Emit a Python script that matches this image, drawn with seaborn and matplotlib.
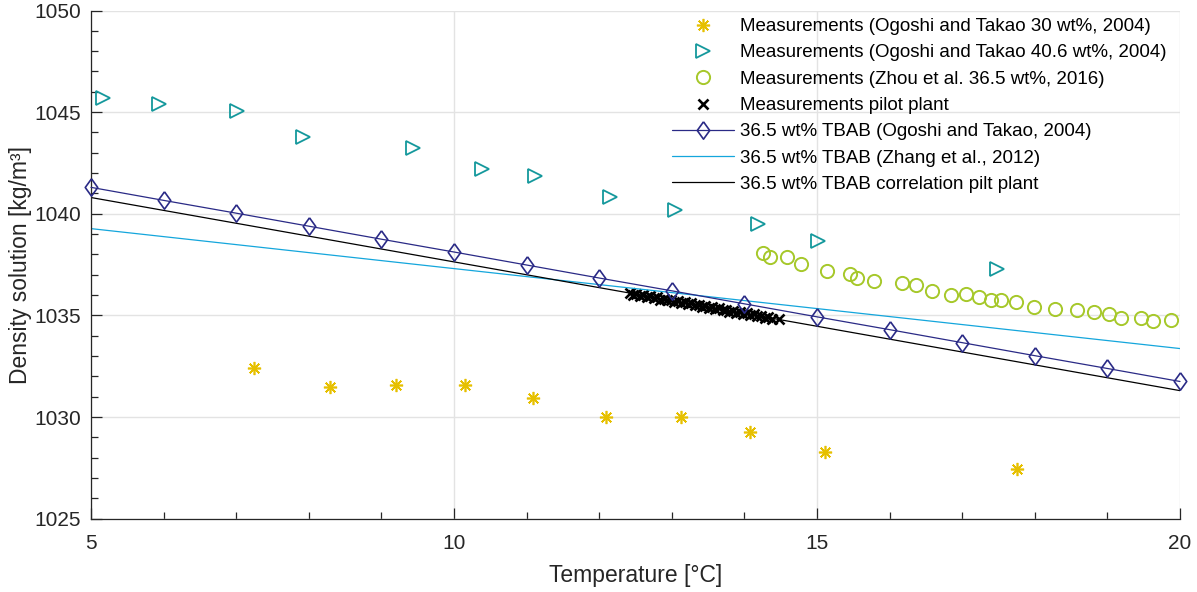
import matplotlib
matplotlib.use("Agg")
import matplotlib.pyplot as plt
import seaborn as sns

# Ogoshi and Takao (2004), 30 wt% TBAB
t_ogoshi30 = [7.25, 8.29, 9.20, 10.15, 11.09, 12.10, 13.13, 14.08, 15.11, 17.76]
rho_ogoshi30 = [1032.43, 1031.46, 1031.57, 1031.57, 1030.95, 1029.99, 1029.99, 1029.25, 1028.30, 1027.45]

# Ogoshi and Takao (2004), 40.6 wt% TBAB
t_ogoshi406 = [5.17, 5.94, 7.01, 7.92, 9.44, 10.38, 11.12, 12.15, 13.04, 14.19, 15.01, 17.48]
rho_ogoshi406 = [1045.68, 1045.39, 1045.06, 1043.77, 1043.25, 1042.21, 1041.88, 1040.85,
                 1040.20, 1039.48, 1038.64, 1037.28]

# Zhou et al. (2016), 36.5 wt% TBAB
t_zhou = [14.26, 14.35, 14.59, 14.78, 15.14, 15.45, 15.55, 15.79, 16.17, 16.36, 16.58, 16.85,
          17.05, 17.23, 17.40, 17.54, 17.74, 17.99, 18.28, 18.58, 18.82, 19.02, 19.19, 19.46,
          19.63, 19.87]
rho_zhou = [1038.05, 1037.86, 1037.86, 1037.52, 1037.20, 1037.06, 1036.83, 1036.70, 1036.59,
            1036.49, 1036.19, 1036.00, 1036.03, 1035.90, 1035.77, 1035.75, 1035.64, 1035.41,
            1035.34, 1035.26, 1035.19, 1035.06, 1034.88, 1034.85, 1034.75, 1034.78]

# Pilot plant measurements
t_pilot = [12.42, 12.47, 12.51, 12.56, 12.60, 12.66, 12.70, 12.75, 12.80, 12.84, 12.89, 12.94,
           12.99, 13.03, 13.08, 13.13, 13.18, 13.22, 13.27, 13.32, 13.37, 13.41, 13.46, 13.51,
           13.56, 13.60, 13.65, 13.70, 13.75, 13.79, 13.84, 13.89, 13.94, 13.98, 14.03, 14.08,
           14.13, 14.18, 14.23, 14.28, 14.33, 14.38, 14.47]
rho_pilot = [1036.08, 1036.02, 1036.06, 1035.97, 1036.01, 1035.91, 1035.95, 1035.86, 1035.89,
             1035.78, 1035.82, 1035.74, 1035.77, 1035.66, 1035.71, 1035.62, 1035.65, 1035.55,
             1035.59, 1035.49, 1035.53, 1035.43, 1035.47, 1035.38, 1035.41, 1035.31, 1035.36,
             1035.26, 1035.29, 1035.19, 1035.23, 1035.13, 1035.17, 1035.08, 1035.11, 1035.01,
             1035.05, 1034.95, 1034.99, 1034.89, 1034.93, 1034.84, 1034.80]

# 36.5 wt% TBAB, Ogoshi and Takao (2004)
t_ogoshi365 = [5, 6, 7, 8, 9, 10, 11, 12, 13, 14, 15, 16, 17, 18, 19, 20]
rho_ogoshi365 = [1041.30, 1040.66, 1040.03, 1039.39, 1038.75, 1038.12, 1037.48, 1036.84,
                 1036.21, 1035.57, 1034.93, 1034.30, 1033.66, 1033.02, 1032.39, 1031.75]

# 36.5 wt% TBAB, Zhang et al. (2012)
t_zhang = [5, 20]
rho_zhang = [1039.27, 1033.37]

# 36.5 wt% TBAB, pilot plant correlation
t_corr = [5, 20]
rho_corr = [1040.80, 1031.30]

labels = [
    "Measurements (Ogoshi and Takao 30 wt%, 2004)",
    "Measurements (Ogoshi and Takao 40.6 wt%, 2004)",
    "Measurements (Zhou et al. 36.5 wt%, 2016)",
    "Measurements pilot plant",
    "36.5 wt% TBAB (Ogoshi and Takao, 2004)",
    "36.5 wt% TBAB (Zhang et al., 2012)",
    "36.5 wt% TBAB correlation pilt plant",
]

sns.set_theme(style="white")
plt.rcParams["font.family"] = ["Liberation Sans", "DejaVu Sans"]
plt.rcParams["axes.unicode_minus"] = False

fig = plt.figure(figsize=(11.97, 5.92), dpi=100)
ax = fig.add_axes([91 / 1197, 1 - 518.7 / 592, (1180 - 91) / 1197, (518.7 - 10.5) / 592])

axis_col = "#262626"
diamond = [(0, 1), (0.72, 0), (0, -1), (-0.72, 0), (0, 1)]

def draw(x, y, **kw):
    sns.lineplot(x=x, y=y, ax=ax, estimator=None, sort=False, **kw)

draw(t_ogoshi30, rho_ogoshi30, label=labels[0], linestyle="none", marker=(8, 2, 0),
     markersize=9.5, markeredgewidth=1.2, color="#E6C000", markeredgecolor="#E6C000")
draw(t_ogoshi406, rho_ogoshi406, label=labels[1], linestyle="none", marker=">",
     markersize=10, markeredgewidth=1.3, color="#14989C",
     markerfacecolor="none", markeredgecolor="#14989C")
draw(t_zhou, rho_zhou, label=labels[2], linestyle="none", marker="o",
     markersize=9.5, markeredgewidth=1.4, color="#A6C82A",
     markerfacecolor="none", markeredgecolor="#A6C82A")
draw(t_pilot, rho_pilot, label=labels[3], linestyle="none", marker="x",
     markersize=7.5, markeredgewidth=1.9, color="black", markeredgecolor="black")
draw(t_ogoshi365, rho_ogoshi365, label=labels[4], marker=diamond, markersize=12.5,
     markeredgewidth=1.2, linewidth=0.9, color="#2A2A86",
     markerfacecolor="none", markeredgecolor="#2A2A86", clip_on=False, zorder=3)
draw(t_zhang, rho_zhang, label=labels[5], linewidth=0.9, color="#14A6DC")
draw(t_corr, rho_corr, label=labels[6], linewidth=0.9, color="black")

ax.set_xlim(5, 20)
ax.set_ylim(1025, 1050)
ax.set_xticks([5, 10, 15, 20])
ax.set_yticks([1025, 1030, 1035, 1040, 1045, 1050])
ax.set_xticks(list(range(5, 21)), minor=True)
ax.set_yticks(list(range(1025, 1051)), minor=True)
ax.grid(True, which="major", color="#E3E3E3", linewidth=1.0)
ax.set_axisbelow(True)

for side in ("top", "right"):
    ax.spines[side].set_visible(False)
for side in ("left", "bottom"):
    ax.spines[side].set_color(axis_col)
    ax.spines[side].set_linewidth(0.9)

ax.tick_params(which="both", direction="in", colors=axis_col, labelsize=15, pad=7)
ax.tick_params(axis="x", which="both", pad=11)
ax.tick_params(which="major", length=8, width=0.9)
ax.tick_params(which="minor", length=5, width=0.9)
ax.tick_params(axis="y", which="both", left=True)
ax.tick_params(axis="x", which="both", bottom=True)

ax.set_xlabel("Temperature [°C]", fontsize=16.5, color=axis_col, labelpad=8)
ax.set_ylabel("Density solution [kg/m³]", fontsize=16.5, color=axis_col, labelpad=2)

leg = ax.legend(loc="upper left", bbox_to_anchor=(672 / 1197, 1 - 18 / 592),
                bbox_transform=fig.transFigure, frameon=False, fontsize=13.5,
                handlelength=3.3, handletextpad=0.3, labelspacing=0.49,
                borderpad=0, borderaxespad=0)
for txt in leg.get_texts():
    txt.set_color("black")

fig.savefig("out.png", dpi=100)
